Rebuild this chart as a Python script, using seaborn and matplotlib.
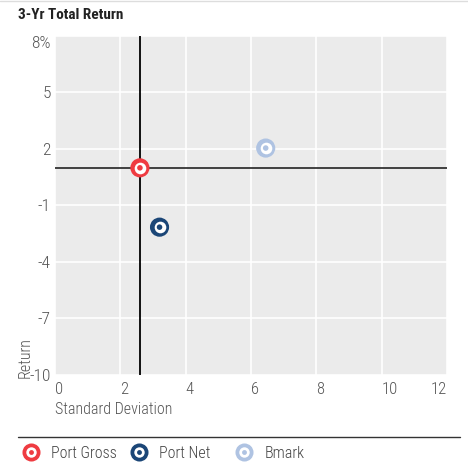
import matplotlib
matplotlib.use('Agg')
import matplotlib.pyplot as plt
import seaborn as sns
import pandas as pd
from matplotlib.lines import Line2D
from matplotlib.legend_handler import HandlerTuple

names = ['Port Gross', 'Port Net', 'Bmark']
std_dev = [2.6, 3.2, 6.45]
returns = [1.0, -2.15, 2.05]
colors = ['#EF3B41', '#1B4677', '#AFC3E2']
xticks = [0, 2, 4, 6, 8, 10, 12]
yticks = [8, 5, 2, -1, -4, -7, -10]
ytick_labels = ['8%', '5', '2', '-1', '-4', '-7', '-10']

df = pd.DataFrame({'name': names, 'std': std_dev, 'ret': returns})
pal = dict(zip(names, colors))

sns.set_style('white')
plt.rcParams['font.family'] = ['Roboto Condensed', 'DejaVu Sans']
grey = '#555555'

fig = plt.figure(figsize=(4.68, 4.62), dpi=100)
ax = fig.add_axes([55 / 468, 1 - 375 / 462, 392 / 468, 339 / 462])
ax.set_facecolor('#EBEBEB')

# crosshair at the portfolio gross point
ax.axvline(std_dev[0], color='black', lw=1.3, zorder=2)
ax.axhline(returns[0], color='#333333', lw=1.3, zorder=2)

# ring markers: outer colour, white ring, inner dot
sns.scatterplot(data=df, x='std', y='ret', hue='name', palette=pal, s=190,
                linewidth=0, legend=False, ax=ax, zorder=3)
sns.scatterplot(data=df, x='std', y='ret', color='white', s=70,
                linewidth=0, legend=False, ax=ax, zorder=4)
sns.scatterplot(data=df, x='std', y='ret', hue='name', palette=pal, s=16,
                linewidth=0, legend=False, ax=ax, zorder=5)

ax.set_xlim(0, 12)
ax.set_ylim(-10, 8)
ax.set_xticks(xticks)
ax.set_yticks(yticks)
ax.set_yticklabels(ytick_labels)
ax.grid(True, color='white', lw=1.2)
ax.set_axisbelow(True)
for s in ax.spines.values():
    s.set_visible(False)
ax.tick_params(length=0, labelsize=12, colors=grey)
ax.tick_params(axis='x', pad=5)
ax.tick_params(axis='y', pad=3, labelsize=12.5)
xl = ax.get_xticklabels()
for lbl in xl:
    lbl.set_ha('left')
    lbl.set_fontweight('light')
xl[-1].set_ha('right')
for lbl in ax.get_yticklabels():
    lbl.set_fontweight('light')
    if lbl.get_text() == '8%':
        lbl.set_va('top')

ax.set_xlabel('')
ax.set_ylabel('')
fig.text(55 / 468, 1 - 409 / 462, 'Standard Deviation', fontsize=11.5,
         fontweight='light', color=grey, ha='left', va='center')
fig.text(25 / 468, 1 - 378 / 462, 'Return', fontsize=11.5, fontweight='light',
         color=grey, rotation=90, ha='center', va='bottom')

fig.text(18 / 468, 1 - 15 / 462, '3-Yr Total Return', fontsize=11,
         fontweight='bold', color='#222222', ha='left', va='center')
fig.add_artist(Line2D([0, 1], [1 - 1 / 462, 1 - 1 / 462], color='#DDDDDD', lw=1))
fig.add_artist(Line2D([18 / 468, 460 / 468], [1 - 437 / 462, 1 - 437 / 462],
                      color='#333333', lw=1))

# one legend box per entry so each sits where the reference has it
marker_x = [31, 139, 244]
for n, c, mx in zip(names, colors, marker_x):
    outer = Line2D([], [], marker='o', ls='', markersize=13, color=c, markeredgewidth=0)
    ring = Line2D([], [], marker='o', ls='', markersize=7.5, color='white', markeredgewidth=0)
    dot = Line2D([], [], marker='o', ls='', markersize=3.5, color=c, markeredgewidth=0)
    leg = fig.legend([(outer, ring, dot)], [n], loc='center left',
                     bbox_to_anchor=((mx - 7.6) / 468, 1 - 453 / 462),
                     frameon=False, fontsize=11.5, handlelength=1.0,
                     handletextpad=0.75, borderaxespad=0, borderpad=0,
                     handler_map={tuple: HandlerTuple(ndivide=1)})
    for t in leg.get_texts():
        t.set_color('#444444')
        t.set_fontweight('light')

fig.savefig('out.png', dpi=100)
